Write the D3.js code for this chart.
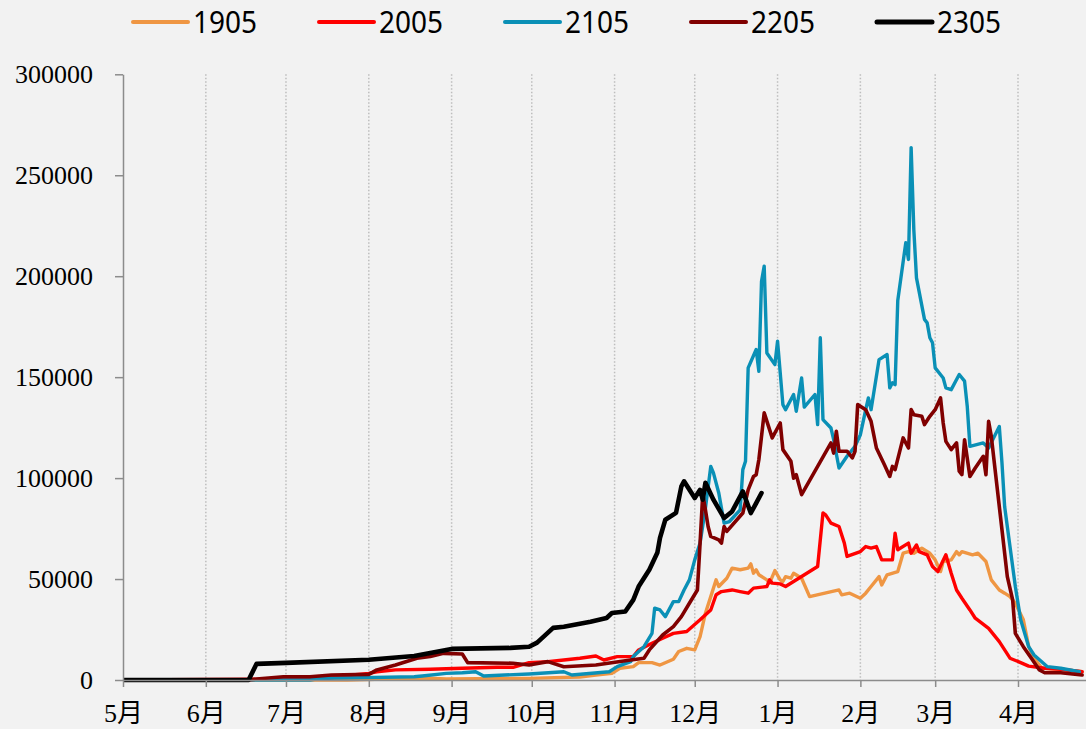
<!DOCTYPE html>
<html>
<head>
<meta charset="utf-8">
<script src="https://cdn.jsdelivr.net/npm/d3@7"></script>
<style>
  html, body { margin: 0; padding: 0; background: #f2f2f2; }
  svg { display: block; }
</style>
</head>
<body>
<svg id="chart" width="1086" height="729"></svg>
<script>
// ---------------- DATA ----------------
const seriesNames = ["1905", "2005", "2105", "2205", "2305"];
const monthLabels = ["5月","6月","7月","8月","9月","10月","11月","12月","1月","2月","3月","4月"];
const yTickValues = [0, 50000, 100000, 150000, 200000, 250000, 300000];

const dates1905 = ["05-01","07-24","08-21","08-30","09-30","10-19","10-25","10-31","11-03","11-08","11-10","11-15","11-18","11-23","11-25","11-28","12-01","12-03","12-05","12-07","12-09","12-10","12-13","12-15","12-18","12-21","12-22","12-23","12-24","12-25","12-28","12-29","12-31","01-02","01-03","01-04","01-06","01-07","01-10","01-13","01-24","01-25","01-28","02-01","02-03","02-05","02-08","02-09","02-11","02-15","02-17","02-19","02-21","02-24","02-27","03-01","03-03","03-04","03-07","03-09","03-10","03-11","03-15","03-17","03-20","03-22","03-25","03-27","03-29","03-31","04-03","04-05","04-07","04-10","04-17","04-25"];
const values1905 = [0,0,1000,500,800,1500,2500,3300,5800,6600,8600,8600,7400,10300,14100,15700,14900,21500,33100,41300,49600,46300,50400,55400,54600,55400,57500,52900,54600,52100,49600,48000,54200,49600,48800,51200,50400,52900,50400,41300,44600,42200,43000,40500,43000,46300,51200,47100,52100,53700,62800,63600,62800,65300,62800,59500,53700,58700,59500,63600,62000,63600,62000,62800,58700,49600,44600,43000,41300,38000,29800,16500,10800,5800,5300,4100];

const dates2005 = ["05-01","07-14","07-26","08-01","08-04","08-11","08-24","09-05","09-18","09-24","09-30","10-07","10-13","10-19","10-25","10-28","11-02","11-08","11-10","11-15","11-19","11-23","11-28","12-03","12-07","12-09","12-11","12-15","12-18","12-21","12-23","12-28","12-29","12-30","01-02","01-04","01-16","01-18","01-19","01-21","01-24","01-26","01-27","02-01","02-03","02-05","02-07","02-09","02-13","02-14","02-15","02-19","02-20","02-22","02-23","02-26","02-28","03-02","03-05","03-07","03-09","03-11","03-14","03-16","03-21","03-25","03-29","04-02","04-05","04-11","04-17","04-25"];
const values2005 = [0,500,2500,3300,4100,5000,5300,5800,6300,6300,8600,9100,9900,10800,11900,9900,11600,11600,14900,18200,20700,23100,24000,29800,34700,42200,43800,44600,43800,43000,45500,46300,49600,48000,47600,46300,56200,82700,81800,77700,76000,67800,61200,63600,66100,65300,66100,59500,59500,72700,64500,67800,62800,66900,63600,62000,56200,53700,62000,52900,44600,40500,34700,30600,25600,19000,10800,8600,6900,5800,5300,4100];

const dates2105 = ["05-01","07-10","07-14","08-18","08-21","08-30","09-05","09-10","09-13","09-30","10-13","10-16","10-30","11-02","11-07","11-08","11-12","11-15","11-16","11-18","11-20","11-23","11-25","11-27","11-29","12-01","12-03","12-05","12-07","12-08","12-10","12-12","12-14","12-18","12-19","12-20","12-21","12-24","12-25","12-26","12-27","12-28","12-31","01-01","01-03","01-04","01-07","01-08","01-10","01-11","01-15","01-16","01-17","01-18","01-21","01-22","01-24","01-27","01-30","02-01","02-03","02-04","02-05","02-07","02-08","02-11","02-12","02-13","02-14","02-15","02-18","02-19","02-20","02-21","02-22","02-25","02-26","02-27","02-28","03-01","03-04","03-05","03-07","03-10","03-12","03-13","03-14","03-19","03-21","03-25","03-26","03-27","03-29","03-31","04-02","04-05","04-07","04-12","04-17","04-24"];
const values2105 = [0,0,800,1600,2000,3300,3600,4100,2000,3000,4100,2500,4100,6600,9100,11600,16500,23100,35600,34700,31400,38800,38800,44600,49600,59500,67800,85000,105800,102600,92600,77700,78500,84300,104200,108300,154600,163700,152900,197500,205000,162000,156200,167800,136400,133900,141400,133100,149600,135200,141400,126500,169500,129000,124800,119000,105000,110800,115700,121500,133900,139700,133900,150400,158700,161200,144700,147200,146300,188000,216600,208300,263700,223200,199200,178600,176900,169500,167000,154600,149600,144700,143800,151300,148000,135600,115700,117400,114900,125600,107500,85900,66100,46300,29800,16500,12400,6600,5800,4100];

const dates2205 = ["05-01","06-17","06-20","06-30","07-10","07-18","08-01","08-04","08-11","08-19","08-24","08-29","09-05","09-07","09-24","09-30","10-07","10-13","10-25","11-07","11-12","11-14","11-19","11-23","11-26","11-29","12-02","12-03","12-04","12-05","12-06","12-07","12-10","12-11","12-12","12-13","12-19","12-21","12-23","12-24","12-25","12-27","12-30","01-02","01-03","01-06","01-07","01-08","01-10","01-21","01-22","01-23","01-24","01-27","01-29","01-30","01-31","02-03","02-05","02-07","02-10","02-12","02-13","02-14","02-17","02-19","02-20","02-21","02-24","02-25","02-27","03-01","03-03","03-04","03-05","03-07","03-09","03-10","03-11","03-12","03-14","03-16","03-19","03-20","03-21","03-22","03-24","03-26","03-28","03-30","03-31","04-03","04-06","04-09","04-11","04-17","04-25"];
const values2205 = [0,0,500,1600,1600,2500,2800,5000,7400,10800,11600,13200,12900,8600,8300,7400,9100,6600,7400,9900,10800,14900,22300,26400,31400,38000,44600,67800,92000,84300,76000,71100,69400,67800,76000,73600,82700,94200,100800,101700,109100,132300,119900,127300,114100,108300,100000,101700,91800,117400,112400,123200,113300,113300,110000,113300,136400,133900,128100,114900,106600,100800,105800,104200,119900,114900,133900,131400,130600,126500,130600,133900,139700,127300,118200,114100,117400,103400,101700,119000,100800,105000,110800,101700,128100,120700,97500,74400,51200,39700,23100,16500,10800,5000,3600,3600,2500];

const dates2305 = ["05-01","06-17","06-20","07-01","08-01","08-18","08-30","09-01","09-23","09-30","10-03","10-09","10-13","10-23","10-29","10-31","11-05","11-08","11-10","11-14","11-17","11-18","11-20","11-24","11-26","11-27","12-01","12-03","12-04","12-05","12-08","12-12","12-15","12-19","12-22","12-24","12-26"];
const values2305 = [0,0,8000,8500,10000,11900,14900,15400,15900,16500,18500,25800,26400,28900,30700,33200,33900,39700,46300,54600,63000,70400,79400,82800,95900,98400,90100,94200,89300,97700,89300,80200,83500,93400,82700,87600,92600];

const seriesDates = [dates1905, dates2005, dates2105, dates2205, dates2305];
const seriesValues = [values1905, values2005, values2105, values2205, values2305];
const seriesColors = ["#EF9643", "#FF0000", "#0A90B6", "#800000", "#000000"];
const seriesWidths = [3.4, 3.4, 3.4, 3.6, 4.6];

// ---------------- HELPERS ----------------
function parseMD(s) {
  const [m, d] = s.split("-").map(Number);
  return new Date(Date.UTC(m >= 5 ? 2021 : 2022, m - 1, d));
}

const W = 1086, H = 729;
const svg = d3.select("#chart");

const x = d3.scaleUtc()
  .domain([new Date(Date.UTC(2021, 4, 1)), new Date(Date.UTC(2022, 3, 1))])
  .range([123, 1018]);
const y = d3.scaleLinear().domain([0, 300000]).range([680, 74.3]);

const monthTicks = monthLabels.map((_, i) => new Date(Date.UTC(2021, 4 + i, 1)));

// gridlines
svg.append("g")
  .selectAll("line")
  .data(monthTicks.slice(1))
  .join("line")
  .attr("x1", d => x(d)).attr("x2", d => x(d))
  .attr("y1", y(300000)).attr("y2", y(0))
  .attr("stroke", "#bdbdbd")
  .attr("stroke-width", 1.5)
  .attr("stroke-dasharray", "1.5,2");

// clip path for plot
svg.append("clipPath").attr("id", "clip")
  .append("rect").attr("x", 123).attr("y", 0).attr("width", W - 123).attr("height", 690);

// lines
const line = d3.line()
  .x(d => x(d[0]))
  .y(d => y(d[1]))
  .curve(d3.curveLinear);

const gLines = svg.append("g").attr("clip-path", "url(#clip)");
seriesNames.forEach((name, i) => {
  const pts = seriesDates[i].map((s, j) => [parseMD(s), seriesValues[i][j]]);
  gLines.append("path")
    .datum(pts)
    .attr("d", line)
    .attr("fill", "none")
    .attr("stroke", seriesColors[i])
    .attr("stroke-width", seriesWidths[i])
    .attr("stroke-linejoin", "round")
    .attr("stroke-linecap", "round");
});

// y axis
const yAxis = d3.axisLeft(y)
  .tickValues(yTickValues)
  .tickFormat(d3.format("d"))
  .tickSizeInner(8).tickSizeOuter(0).tickPadding(22);
const gy = svg.append("g").attr("transform", "translate(123,0)").call(yAxis);
gy.select(".domain").attr("stroke", "#8c8c8c").attr("stroke-width", 1.5);
gy.selectAll(".tick line").attr("stroke", "#8c8c8c").attr("stroke-width", 1.5);
gy.selectAll("text")
  .attr("fill", "#000")
  .style("font-family", "'Liberation Serif', 'Times New Roman', serif")
  .style("font-size", "26px");

// x axis
const xAxis = d3.axisBottom(x)
  .tickValues(monthTicks)
  .tickFormat((d, i) => monthLabels[i])
  .tickSizeInner(7).tickSizeOuter(0).tickPadding(17);
const gx = svg.append("g").attr("transform", "translate(0,680)").call(xAxis);
gx.select(".domain").attr("d", `M123,0.5H${W}`).attr("stroke", "#8c8c8c").attr("stroke-width", 1.5);
gx.selectAll(".tick line").attr("stroke", "#8c8c8c").attr("stroke-width", 1.5);
gx.selectAll("text")
  .attr("fill", "#000")
  .style("font-family", "'Liberation Serif', 'Noto Sans CJK SC', serif")
  .style("font-size", "26px");

// legend
const legend = svg.append("g");
seriesNames.forEach((name, i) => {
  const lx = 133 + i * 186;
  legend.append("line")
    .attr("x1", lx).attr("x2", lx + 55)
    .attr("y1", 22).attr("y2", 22)
    .attr("stroke", seriesColors[i])
    .attr("stroke-width", i === 4 ? 5 : 4)
    .attr("stroke-linecap", "round");
  legend.append("text")
    .attr("x", lx + 60).attr("y", 33)
    .attr("textLength", 64)
    .attr("lengthAdjust", "spacingAndGlyphs")
    .style("font-family", "'Noto Sans', 'Liberation Sans', sans-serif")
    .style("font-size", "31px")
    .attr("fill", "#000")
    .text(name);
});
</script>
</body>
</html>
